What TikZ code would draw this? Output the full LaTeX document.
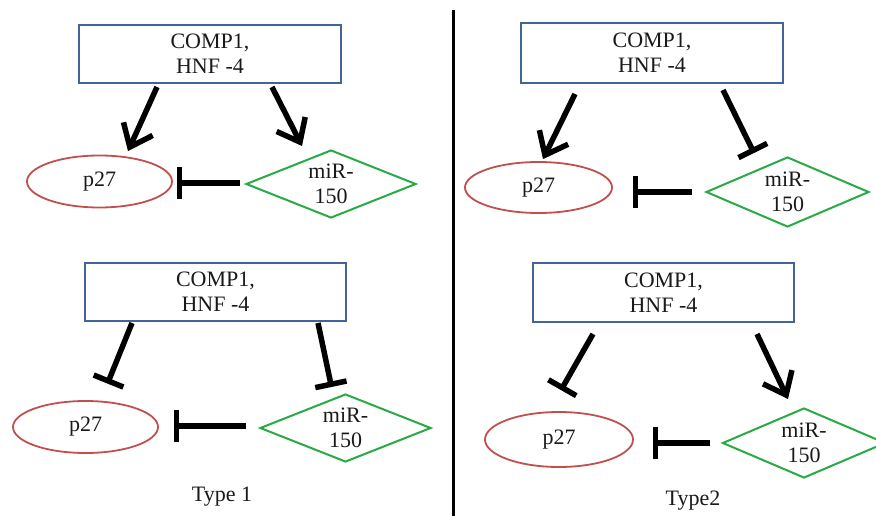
\documentclass[tikz,border=0pt]{standalone}
\usepackage{fontspec}
\setmainfont{Liberation Serif}
\usetikzlibrary{shapes.geometric,arrows.meta,calc}
\definecolor{boxblue}{RGB}{66,100,155}
\definecolor{ellred}{RGB}{192,80,77}
\definecolor{diagreen}{RGB}{40,170,70}
\definecolor{txt}{RGB}{25,25,25}
\tikzset{
  lbl/.style={font=\fontsize{22}{25}\selectfont, text=txt, align=center},
  regbox/.style={lbl, draw=boxblue, line width=2pt, rectangle, inner sep=0pt},
  prot/.style={lbl, draw=ellred, line width=1.8pt, ellipse, inner sep=0pt},
  mir/.style={lbl, draw=diagreen, line width=2pt, diamond, aspect=2.3, inner sep=0pt},
  act/.style={line width=5.5pt, -{Straight Barb[length=20pt,width=32pt]}},
  inh/.style={line width=5.5pt, -{Bar[width=32pt]}},
}
\begin{document}
\begin{tikzpicture}[x=1pt,y=-1pt]
\useasboundingbox (0,0) rectangle (876,516);
% divider
\coordinate (dtop) at (453,10);
\coordinate (dbot) at (453,516);
\draw[line width=3pt] (dtop) -- (dbot);

% ---------- top left ----------
\node[regbox, minimum width=262pt, minimum height=58pt] (b1) at (210,54) {COMP1,\\HNF -4};
\node[prot, minimum width=145pt, minimum height=52pt] (p1) at (99.5,181.5) {p27};
\node[mir, minimum width=170pt, minimum height=68pt] (m1) at (331,184) {miR-\\150};
\draw[act] ($(b1.south)+(-53,3)$) -- ($(p1.north)+(28.5,-3.5)$);
\draw[act] ($(b1.south)+(62,3)$) -- ($(m1.north)+(-29,-3)$);
\draw[inh] ($(m1.west)+(-5,-1)$) -- ($(p1.east)+(4,1.5)$);

% ---------- top right ----------
\node[regbox, minimum width=262pt, minimum height=60pt] (b2) at (652,53) {COMP1,\\HNF -4};
\node[prot, minimum width=147pt, minimum height=51pt] (p2) at (538.5,187.5) {p27};
\node[mir, minimum width=163pt, minimum height=70pt] (m2) at (787.5,192) {miR-\\150};
\draw[act] ($(b2.south)+(-77,10)$) -- ($(p2.north)+(4.5,-2)$);
\draw[inh] ($(b2.south)+(71,6)$) -- ($(m2.north)+(-33.5,-3)$);
\draw[inh] ($(m2.west)+(-13,0)$) -- ($(p2.east)+(20,4.5)$);

% ---------- bottom left ----------
\node[regbox, minimum width=261pt, minimum height=58pt] (b3) at (215.5,292) {COMP1,\\HNF -4};
\node[prot, minimum width=145pt, minimum height=52pt] (p3) at (85.5,427) {p27};
\node[mir, minimum width=171pt, minimum height=68pt] (m3) at (345.5,428) {miR-\\150};
\draw[inh] ($(b3.south)+(-83.5,1)$) -- ($(p3.north)+(22,-16.5)$);
\draw[inh] ($(b3.south)+(102.5,1)$) -- ($(m3.north)+(-14,-6)$);
\draw[inh] ($(m3.west)+(-13,-2)$) -- ($(p3.east)+(15,-1)$);
\node[lbl] (t1) at (222,497) {Type 1};

% ---------- bottom right ----------
\node[regbox, minimum width=261pt, minimum height=59pt] (b4) at (663.5,292.5) {COMP1,\\HNF -4};
\node[prot, minimum width=148pt, minimum height=55pt] (p4) at (559,439.5) {p27};
\node[mir, minimum width=163pt, minimum height=70pt] (m4) at (804,443) {miR-\\150};
\draw[inh] ($(b4.south)+(-70.5,11)$) -- ($(p4.north)+(2,-21)$);
\draw[act] ($(b4.south)+(93.5,11)$) -- ($(m4.north)+(-16,-8)$);
\draw[inh] ($(m4.west)+(-11.5,0)$) -- ($(p4.east)+(19,3.5)$);
\node[lbl] (t2) at (693,501) {Type2};
\end{tikzpicture}
\end{document}
